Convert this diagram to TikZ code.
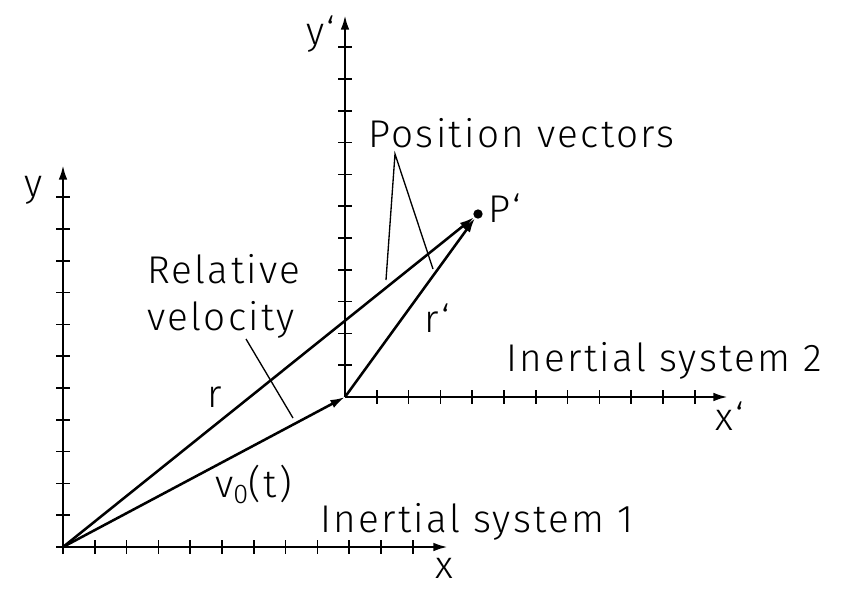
\documentclass[tikz,border=0pt]{standalone}
\usepackage{fontspec}
\setmainfont[LetterSpace=6]{Fira Sans Light}
\usetikzlibrary{arrows.meta}

\tikzset{
	axis/.style={line width=1.9pt,-{Latex[length=11pt,width=6.5pt]}},
	vec/.style={line width=1.9pt,-{Latex[length=11pt,width=6.5pt]}},
	tick/.style={line width=1.2pt},
	leader/.style={line width=1pt},
	lbl/.style={inner sep=0pt,font=\fontsize{29}{35}\selectfont},
	dot/.style={circle,fill,inner sep=0pt,minimum size=7pt}
}

\begin{document}
\begin{tikzpicture}[x=0.75pt,y=0.75pt,yscale=-1]
	\useasboundingbox (0,0) rectangle (843,596);
	\def\d{31.8}
	%system 1
	\coordinate (O1) at (63,547);
	\coordinate (x1s) at (56,547);
	\coordinate (y1s) at (63,554);
	\coordinate (x1e) at (448,547);
	\coordinate (y1e) at (63,165);
	\draw[axis] (x1s) -- (x1e);
	\draw[axis] (y1s) -- (y1e);
	\foreach \i in {1,...,11} {
		\draw[tick] (63+\d*\i,540) -- (63+\d*\i,554);
		\draw[tick] (56,547-\d*\i) -- (70,547-\d*\i);
	}
	
	%system 2
	\coordinate (O2) at (345,397);
	\coordinate (x2e) at (728,397);
	\coordinate (y2e) at (345,15);
	\draw[axis] (O2) -- (x2e);
	\draw[axis] (O2) -- (y2e);
	\foreach \i in {1,...,11} {
		\draw[tick] (345+\d*\i,390) -- (345+\d*\i,404);
		\draw[tick] (338,397-\d*\i) -- (352,397-\d*\i);
	}
	
	% point
	\node[dot] (P) at (478,214) {};
	
	%vectors
	\draw[vec] (O1) -- (O2);
	\draw[vec] (O1) -- (P);
	\draw[vec] (O2) -- (P);
	
	% Text Node
	\node[lbl,anchor=base west] (x) at (435,578) {x};
	\node[lbl,anchor=base west] (y) at (24,196) {y};
	\node[lbl,anchor=base west] (x2) at (715,430) {x‘};
	\node[lbl,anchor=base west] (y2) at (306,45) {y‘};
	\node[lbl,anchor=base west] (Plbl) at (488,222) {P‘};
	\node[lbl,anchor=base west] (r) at (207,407) {r};
	\node[lbl,anchor=base west] (r2) at (424,332) {r‘};
	\node[lbl,anchor=base west] (v0) at (215,497) {v\textsubscript{0}(t)};
	\node[lbl,anchor=base west] (sys1) at (320,532) {Inertial system 1};
	\node[lbl,anchor=base west] (sys2) at (506,371) {Inertial system 2};
	\node[lbl,anchor=base west] (pos) at (368,147) {Position vectors};
	\node[lbl,anchor=north west,align=left] (rel) at (147,254) {Relative\\velocity};
	
	%leaders
	\coordinate (pv) at (395,154);
	\coordinate (pv1) at (386,280);
	\coordinate (pv2) at (433,269);
	\coordinate (rv1) at (246,339);
	\coordinate (rv2) at (293,418);
	\draw[leader] (pv1) -- (pv) -- (pv2);
	\draw[leader] (rv1) -- (rv2);
\end{tikzpicture}
\end{document}
